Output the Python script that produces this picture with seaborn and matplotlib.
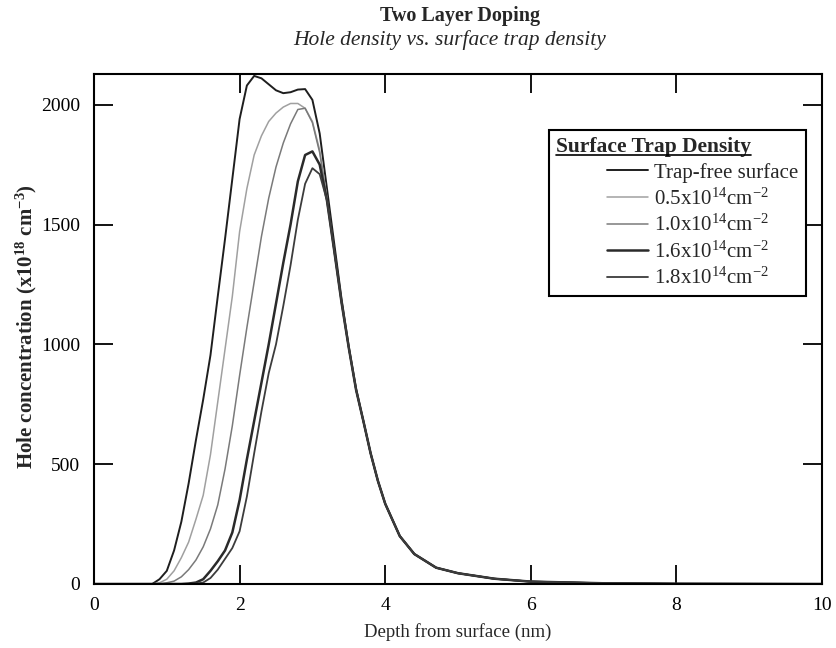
import numpy as np
import pandas as pd
import matplotlib
matplotlib.use("Agg")
import matplotlib.pyplot as plt
import seaborn as sns
from matplotlib.lines import Line2D

# Depth grid (nm) and hole concentration (x10^18 cm^-3)
depth = [0.0, 0.5, 0.8, 0.9, 1.0, 1.1, 1.2, 1.3, 1.4, 1.5, 1.6, 1.7, 1.8, 1.9,
         2.0, 2.1, 2.2, 2.3, 2.4, 2.5, 2.6, 2.7, 2.8, 2.9, 3.0, 3.1, 3.2, 3.3,
         3.4, 3.5, 3.6, 3.7, 3.8, 3.9, 4.0, 4.2, 4.4, 4.7, 5.0, 5.5, 6.0, 7.0,
         8.0, 10.0]

trap_free = [0, 0, 0, 20, 55, 140, 260, 420, 600, 770, 955, 1200, 1440, 1690,
             1940, 2080, 2120, 2110, 2085, 2060, 2048, 2052, 2063, 2065, 2020,
             1880, 1650, 1420, 1190, 990, 815, 680, 545, 430, 335, 200, 125, 68,
             45, 22, 10, 3, 1, 0]
trap_05 = [0, 0, 0, 5, 20, 55, 110, 175, 270, 370, 540, 760, 980, 1200,
           1470, 1650, 1790, 1870, 1930, 1965, 1990, 2005, 2005, 1985, 1930,
           1810, 1610, 1390, 1175, 985, 810, 680, 545, 430, 335, 200, 125, 68,
           45, 22, 10, 3, 1, 0]
trap_10 = [0, 0, 0, 0, 5, 12, 30, 60, 100, 155, 230, 330, 480, 660,
           870, 1070, 1260, 1450, 1610, 1740, 1840, 1920, 1980, 1985, 1925,
           1800, 1605, 1390, 1175, 985, 810, 680, 545, 430, 335, 200, 125, 68,
           45, 22, 10, 3, 1, 0]
trap_16 = [0, 0, 0, 0, 0, 0, 0, 2, 6, 20, 55, 95, 140, 215,
           350, 520, 680, 840, 1000, 1170, 1340, 1500, 1680, 1790, 1805,
           1750, 1600, 1390, 1175, 985, 810, 680, 545, 430, 335, 200, 125, 68,
           45, 22, 10, 3, 1, 0]
trap_18 = [0, 0, 0, 0, 0, 0, 0, 0, 2, 6, 25, 60, 105, 150,
           220, 365, 545, 720, 880, 1000, 1160, 1330, 1520, 1670, 1735,
           1710, 1600, 1390, 1175, 985, 810, 680, 545, 430, 335, 200, 125, 68,
           45, 22, 10, 3, 1, 0]

labels = ["Trap-free surface",
          r"0.5x10$^{14}$cm$^{-2}$",
          r"1.0x10$^{14}$cm$^{-2}$",
          r"1.6x10$^{14}$cm$^{-2}$",
          r"1.8x10$^{14}$cm$^{-2}$"]
series = [trap_free, trap_05, trap_10, trap_16, trap_18]
colors = ["#1e1e1e", "#a0a0a0", "#7a7a7a", "#2a2a2a", "#3c3c3c"]
widths = [1.4, 1.1, 1.1, 1.8, 1.3]

sns.set_style("ticks")
plt.rcParams['font.family'] = ['Liberation Serif', 'DejaVu Serif']
plt.rcParams['mathtext.fontset'] = 'custom'
plt.rcParams['mathtext.rm'] = 'Liberation Serif'
plt.rcParams['mathtext.bf'] = 'Liberation Serif:bold'
plt.rcParams['mathtext.it'] = 'Liberation Serif:italic'

fig = plt.figure(figsize=(8.37, 6.48), dpi=100)
ax = fig.add_axes([94 / 837, 64 / 648, 728 / 837, 510 / 648])

for vals, lab, c, w in zip(series, labels, colors, widths):
    df = pd.DataFrame({'depth': depth, 'conc': vals})
    sns.lineplot(data=df, x='depth', y='conc', color=c, lw=w, label=lab, ax=ax)

ax.set_xlim(0, 10)
ax.set_ylim(0, 2128)
ax.set_xticks([0, 2, 4, 6, 8, 10])
ax.set_yticks([0, 500, 1000, 1500, 2000])
ax.tick_params(direction='in', length=14, width=1.3, top=True, right=True,
               labelsize=14, colors='black')
ax.tick_params(axis='x', pad=9)
ax.tick_params(axis='y', pad=10)
for s in ax.spines.values():
    s.set_linewidth(1.5)
    s.set_color('black')

ax.set_xlabel('Depth from surface (nm)', fontsize=13.5, labelpad=7)
ax.set_ylabel(r'Hole concentration (x10$^{\mathbf{18}}$ cm$^{\mathbf{-3}}$)',
              fontsize=15, fontweight='bold')
ax.yaxis.set_label_coords(-0.075, 0.505)

fig.text(460 / 837, 1 - 16 / 648, 'Two Layer Doping', ha='center', va='center',
         fontsize=14.5, fontweight='bold')
fig.text(450 / 837, 1 - 40 / 648, 'Hole density vs. surface trap density',
         ha='center', va='center', fontsize=15.5, style='italic')

title = 'Surface Trap Density'
leg = ax.legend(title=title + '\u2007' * 4 + '\u2009', loc='upper right',
                bbox_to_anchor=(0.978, 0.890), borderaxespad=0,
                fontsize=15, title_fontproperties={'weight': 'bold', 'size': 15.5},
                frameon=True, fancybox=False, edgecolor='black',
                framealpha=1, handlelength=2.0, handletextpad=0.3,
                labelspacing=0.26, borderpad=0.35, alignment='right')
leg.get_frame().set_linewidth(1.5)

# underline the legend title
fig.canvas.draw()
renderer = fig.canvas.get_renderer()
tt = leg.get_title()
bb = tt.get_window_extent(renderer)
w, h, d = renderer.get_text_width_height_descent(title, tt.get_fontproperties(), ismath=False)
yline = bb.y0 + d - 2.5
fig.add_artist(Line2D([bb.x0 / fig.bbox.width, (bb.x0 + w) / fig.bbox.width],
                      [yline / fig.bbox.height, yline / fig.bbox.height],
                      color='black', lw=1.2))

fig.savefig('out.png', dpi=100)
